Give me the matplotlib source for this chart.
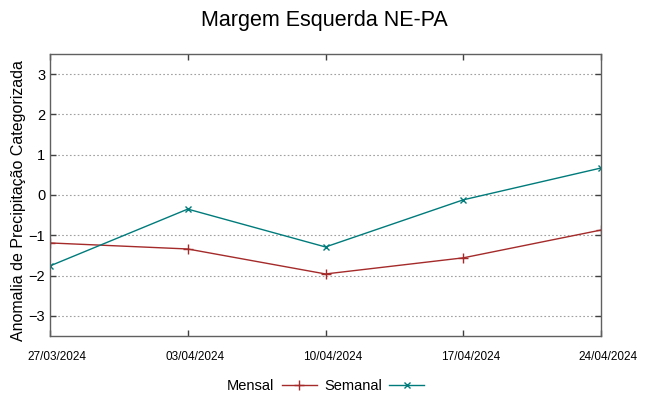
import numpy as np
import matplotlib.pyplot as plt
import matplotlib.transforms as mtransforms

plt.rcParams['font.family'] = ['Liberation Sans', 'DejaVu Sans']

datas = ["27/03/2024", "03/04/2024", "10/04/2024", "17/04/2024", "24/04/2024"]
mensal = [-1.19, -1.34, -1.96, -1.56, -0.87]
semanal = [-1.76, -0.35, -1.29, -0.12, 0.67]

x = np.arange(len(datas))

fig = plt.figure(figsize=(6.49, 3.96), dpi=100)
ax = fig.add_axes([50/649, 1-336/396, 551/649, 282/396])

ax.plot(x, mensal, color='#a52a2a', lw=1, marker='+', ms=7, mew=1, label='Mensal')
ax.plot(x, semanal, color='#007b7b', lw=1, marker='x', ms=5, mew=1, label='Semanal')

ax.set_xlim(0, 4)
ax.set_ylim(-3.5, 3.5)
ax.set_yticks([-3, -2, -1, 0, 1, 2, 3])
ax.set_xticks(x)
ax.set_xticklabels(datas, fontsize=8.5)
ax.tick_params(axis='y', labelsize=10.5)
ax.tick_params(direction='in', top=True, right=True, length=4, color='#404040', width=1)
ax.tick_params(axis='x', pad=11)
off = mtransforms.ScaledTranslation(7/100, 0, fig.dpi_scale_trans)
for lb in ax.get_xticklabels():
    lb.set_transform(lb.get_transform() + off)

ax.yaxis.grid(True, linestyle=(0, (1.5, 2)), color='#a0a0a0', lw=0.8)
for s in ax.spines.values():
    s.set_color('#606060')
    s.set_linewidth(1)

ax.set_ylabel("Anomalia de Precipitação Categorizada", fontsize=11.5)
ax.yaxis.set_label_coords(-0.043, 0.48)
fig.suptitle("Margem Esquerda NE-PA", fontsize=15.5, y=0.975)

ax.legend(loc='upper center', bbox_to_anchor=(0.5, -0.105), ncol=2, frameon=False,
          markerfirst=False, fontsize=10.5, handlelength=2.4, columnspacing=0.5,
          handletextpad=0.5)

fig.savefig("out.png", dpi=100)
